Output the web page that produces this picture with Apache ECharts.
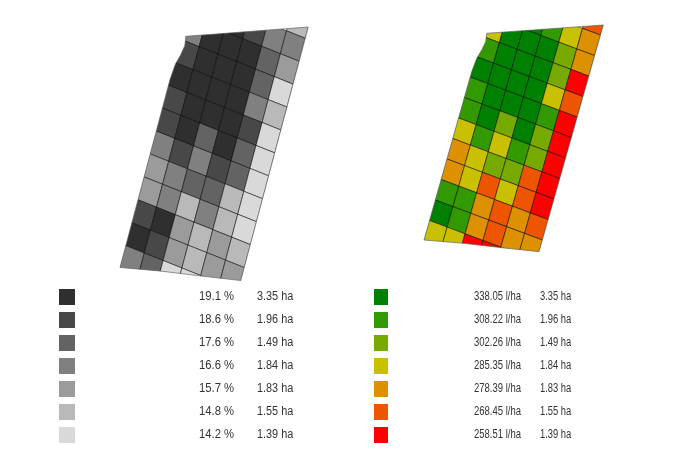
<!DOCTYPE html>
<html>
<head>
<meta charset="utf-8">
<style>
  html, body { margin: 0; padding: 0; background: #fff; }
  #chart { width: 674px; height: 464px; }
</style>
<script src="https://cdn.jsdelivr.net/npm/echarts@6/dist/echarts.min.js"></script>
</head>
<body>
<div id="chart"></div>
<script>
// legend classes
let percents = ['19.1 %', '18.6 %', '17.6 %', '16.6 %', '15.7 %', '14.8 %', '14.2 %'];
let rates = ['338.05 l/ha', '308.22 l/ha', '302.26 l/ha', '285.35 l/ha', '278.39 l/ha', '268.45 l/ha', '258.51 l/ha'];
let areas = ['3.35 ha', '1.96 ha', '1.49 ha', '1.84 ha', '1.83 ha', '1.55 ha', '1.39 ha'];

let grays = ['#2f2f2f', '#484848', '#636363', '#808080', '#9b9b9b', '#b9b9b9', '#d9d9d9'];
let colors = ['#008000', '#339900', '#77aa00', '#c8c000', '#dd9000', '#ee5500', '#ff0000'];

// first lattice row of each column
let firstRows = [0, 0, -1, -1, -1, -2];

// class of every cell, column by column, left map
let grayCol0 = [3, 1, 0, 1, 1, 3, 4, 4, 1, 0, 3];
let grayCol1 = [0, 0, 0, 0, 0, 1, 3, 3, 0, 1, 2];
let grayCol2 = [0, 0, 0, 0, 0, 2, 3, 2, 5, 4, 4, 6];
let grayCol3 = [1, 0, 0, 0, 0, 0, 1, 2, 3, 5, 5, 6];
let grayCol4 = [3, 2, 2, 3, 1, 2, 2, 5, 5, 4, 4];
let grayCol5 = [5, 3, 4, 6, 5, 6, 6, 6, 6, 6, 5, 4];

// right map
let rateCol0 = [3, 1, 0, 1, 1, 3, 4, 4, 1, 0, 3];
let rateCol1 = [0, 0, 0, 0, 0, 1, 3, 3, 1, 1, 3];
let rateCol2 = [0, 0, 0, 0, 0, 2, 3, 2, 5, 4, 4, 6];
let rateCol3 = [1, 0, 0, 0, 0, 0, 1, 2, 3, 5, 5, 6];
let rateCol4 = [3, 2, 2, 3, 1, 2, 2, 5, 5, 4, 4];
let rateCol5 = [5, 4, 4, 6, 5, 6, 6, 6, 6, 6, 5, 4];

// field boundary, in field units
let fieldX = [62.7, 179.3, 115, 77.7, 39.3, 0, 47.7, 52.7, 57.7, 61.7, 62.7];
let fieldY = [8.3, 0, 226.7, 222.7, 218.3, 215, 46.7, 33.3, 25, 16.7, 8.3];

// lattice of the field: origin and the two steps, in field units
let latticeOrigin = [63.25, -9.6];
let colStep = [17.9, 6.7];
let rowStep = [-5.8, 20.5];

const FIELD_W = 180;
const FIELD_H = 228;

function node(c, r) {
  return [
    latticeOrigin[0] + c * colStep[0] + r * rowStep[0],
    latticeOrigin[1] + c * colStep[1] + r * rowStep[1]
  ];
}

// [col, row, class] list for one map
function toCells(cols) {
  let list = [];
  cols.forEach((col, c) => {
    col.forEach((cls, i) => {
      list.push([c, firstRows[c] + i, cls]);
    });
  });
  return list;
}

function cellSeries(index, cols, palette) {
  return {
    type: 'custom',
    xAxisIndex: index,
    yAxisIndex: index,
    data: toCells(cols),
    silent: true,
    clip: false,
    renderItem(params, api) {
      let c = api.value(0);
      let r = api.value(1);
      let corners = [node(c, r), node(c + 1, r), node(c + 1, r + 1), node(c, r + 1)];
      let boundary = fieldX.map((x, i) => api.coord([x, fieldY[i]]));
      return {
        type: 'polygon',
        shape: { points: corners.map(p => api.coord(p)) },
        style: { fill: palette[api.value(2)], stroke: 'rgba(0,0,0,0.75)', lineWidth: 0.7 },
        clipPath: { type: 'polygon', shape: { points: boundary } }
      };
    }
  };
}

function boundarySeries(index) {
  return {
    type: 'line',
    xAxisIndex: index,
    yAxisIndex: index,
    data: fieldX.map((x, i) => [x, fieldY[i]]),
    symbol: 'none',
    silent: true,
    clip: false,
    z: 5,
    lineStyle: { color: '#666', width: 0.7 }
  };
}

function hiddenAxis(gridIndex, max, inverse) {
  return { type: 'value', gridIndex, min: 0, max, inverse, show: false };
}

// legend rows are plain graphic elements, narrowed like the source text
function legendText(text, x, y, scaleX) {
  return {
    type: 'text',
    x,
    y,
    scaleX,
    silent: true,
    style: {
      text,
      fill: '#333',
      font: '12.5px "Liberation Sans", Arial, sans-serif',
      textVerticalAlign: 'middle'
    }
  };
}

function legendSwatch(x, y, w, fill) {
  return { type: 'rect', silent: true, shape: { x, y: y - 8, width: w, height: 16 }, style: { fill } };
}

let legendItems = [];
areas.forEach((area, i) => {
  let y = 297 + i * 23;
  legendItems.push(legendSwatch(59, y, 16, grays[i]));
  legendItems.push(legendText(percents[i], 199, y, 0.9));
  legendItems.push(legendText(area, 257, y, 0.87));
  legendItems.push(legendSwatch(374, y, 14, colors[i]));
  legendItems.push(legendText(rates[i], 474, y, 0.76));
  legendItems.push(legendText(area, 540, y, 0.75));
});

let chart = echarts.init(document.getElementById('chart'));

chart.setOption({
  backgroundColor: '#fff',
  animation: false,
  grid: [
    { left: 120, top: 27, width: 189, height: 255 },
    { left: 424, top: 25, width: FIELD_W, height: FIELD_H }
  ],
  xAxis: [hiddenAxis(0, FIELD_W, false), hiddenAxis(1, FIELD_W, false)],
  yAxis: [hiddenAxis(0, FIELD_H, true), hiddenAxis(1, FIELD_H, true)],
  series: [
    cellSeries(0, [grayCol0, grayCol1, grayCol2, grayCol3, grayCol4, grayCol5], grays),
    boundarySeries(0),
    cellSeries(1, [rateCol0, rateCol1, rateCol2, rateCol3, rateCol4, rateCol5], colors),
    boundarySeries(1)
  ],
  graphic: { elements: legendItems }
});
</script>
</body>
</html>
